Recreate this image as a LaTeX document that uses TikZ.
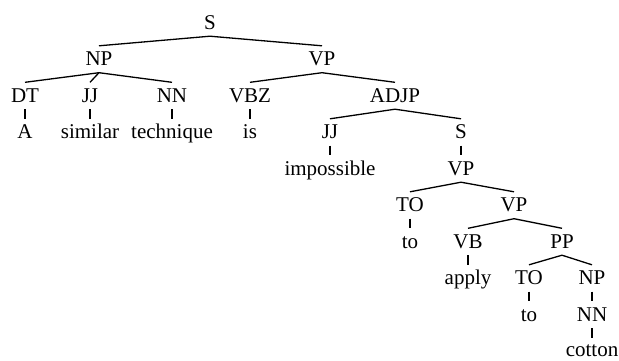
\documentclass[tikz,border=0pt]{standalone}
\usepackage{fontspec}
\setmainfont{Liberation Serif}
\begin{document}
\begin{tikzpicture}[x=1pt,y=-1pt,
  lbl/.style={anchor=base,inner sep=0pt,text height=19.5pt,text depth=7pt,font=\fontsize{21}{25}\selectfont},
  edge/.style={line width=1.3pt}]
\useasboundingbox (0,0) rectangle (619,360);
% level baselines
\def\La{29}\def\Lb{65.5}\def\Lc{102}\def\Ld{138.5}\def\Le{175}
\def\Lf{211.5}\def\Lg{248}\def\Lh{284.5}\def\Li{321}\def\Lj{356}
\node[lbl] (S) at (210,\La) {S};
\node[lbl] (NP) at (99,\Lb) {NP};
\node[lbl] (VP) at (322,\Lb) {VP};
\node[lbl] (DT) at (25,\Lc) {DT};
\node[lbl] (JJa) at (90,\Lc) {JJ};
\node[lbl] (NN) at (172,\Lc) {NN};
\node[lbl] (VBZ) at (250,\Lc) {VBZ};
\node[lbl] (ADJP) at (395,\Lc) {ADJP};
\node[lbl] (wA) at (25,\Ld) {A};
\node[lbl] (wsimilar) at (90,\Ld) {similar};
\node[lbl] (wtechnique) at (172,\Ld) {technique};
\node[lbl] (wis) at (250,\Ld) {is};
\node[lbl] (JJb) at (330,\Ld) {JJ};
\node[lbl] (Sb) at (461,\Ld) {S};
\node[lbl] (wimpossible) at (330,\Le) {impossible};
\node[lbl] (VPb) at (461,\Le) {VP};
\node[lbl] (TOa) at (410,\Lf) {TO};
\node[lbl] (VPc) at (514,\Lf) {VP};
\node[lbl] (wtoa) at (410,\Lg) {to};
\node[lbl] (VB) at (468,\Lg) {VB};
\node[lbl] (PP) at (562,\Lg) {PP};
\node[lbl] (wapply) at (468,\Lh) {apply};
\node[lbl] (TOb) at (529,\Lh) {TO};
\node[lbl] (NPb) at (592,\Lh) {NP};
\node[lbl] (wtob) at (529,\Li) {to};
\node[lbl] (NNb) at (592,\Li) {NN};
\node[lbl,text depth=0pt,text height=18pt] (wcotton) at (592,\Lj) {cotton};
\foreach \p/\c in {S/NP,S/VP,NP/DT,NP/JJa,NP/NN,VP/VBZ,VP/ADJP,
  DT/wA,JJa/wsimilar,NN/wtechnique,VBZ/wis,ADJP/JJb,ADJP/Sb,
  JJb/wimpossible,Sb/VPb,VPb/TOa,VPb/VPc,TOa/wtoa,VPc/VB,VPc/PP,
  VB/wapply,PP/TOb,PP/NPb,TOb/wtob,NPb/NNb,NNb/wcotton}
  \draw[edge] (\p.south) -- (\c.north);
\end{tikzpicture}
\end{document}
